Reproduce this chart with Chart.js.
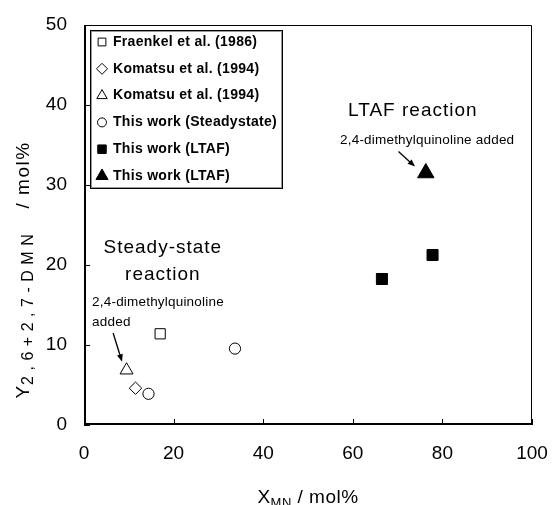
<!DOCTYPE html>
<html>
<head>
<meta charset="utf-8">
<script src="https://cdn.jsdelivr.net/npm/chart.js@4.4.0/dist/chart.umd.min.js"></script>
<style>
html, body { margin: 0; padding: 0; background: #fff; }
</style>
</head>
<body>
<canvas id="myChart" width="553" height="505"></canvas>
<script>
// tick values
const xTicks = [0, 20, 40, 60, 80, 100];
const yTicks = [0, 10, 20, 30, 40, 50];

// legend labels
const seriesNames = [
  'Fraenkel et al. (1986)',
  'Komatsu et al. (1994)',
  'Komatsu et al. (1994)',
  'This work (Steadystate)',
  'This work (LTAF)',
  'This work (LTAF)'
];

// data (X_MN, Y_2,6+2,7-DMN)
const fraenkelX = [17.0];
const fraenkelY = [11.4];
const komatsuDiamondX = [11.5];
const komatsuDiamondY = [4.6];
const komatsuTriangleX = [9.5];
const komatsuTriangleY = [6.85];
const steadyX = [14.4, 33.7];
const steadyY = [3.9, 9.55];
const ltafSquareX = [66.5, 77.8];
const ltafSquareY = [18.25, 21.25];
const ltafTriangleX = [76.3];
const ltafTriangleY = [31.5];

// notes on the plot, placed in data units
const notes = [
  { text: 'LTAF reaction', x: 73.4, y: 39.3, size: 19, align: 'center' },
  { text: '2,4-dimethylquinoline added', x: 76.6, y: 35.6, size: 13.5, align: 'center' },
  { text: 'Steady-state', x: 17.6, y: 22.1, size: 19, align: 'center' },
  { text: 'reaction', x: 17.6, y: 18.75, size: 19, align: 'center' },
  { text: '2,4-dimethylquinoline', x: 1.8, y: 15.4, size: 13.5, align: 'left' },
  { text: 'added', x: 1.8, y: 12.9, size: 13.5, align: 'left' }
];
const arrows = [
  { from: [70.2, 34.2], to: [73.9, 32.3] },
  { from: [6.5, 11.5], to: [8.5, 7.9] }
];

const FONT = "Arial, 'Liberation Sans', sans-serif";
Chart.defaults.font.family = FONT;
Chart.defaults.color = '#000';

const pts = (xs, ys) => xs.map((v, i) => ({ x: v, y: ys[i] }));

const mk = (i, xs, ys, style, r, filled) => ({
  label: seriesNames[i],
  data: pts(xs, ys),
  pointStyle: style,
  pointRadius: r,
  pointHoverRadius: r,
  borderWidth: 1,
  borderColor: '#000',
  backgroundColor: filled ? '#000' : '#fff',
  showLine: false
});

const legendMarks = [
  { style: 'rect', r: 5.5, filled: false },
  { style: 'rectRot', r: 5.5, filled: false },
  { style: 'triangle', r: 6, filled: false },
  { style: 'circle', r: 4.5, filled: false },
  { style: 'rect', r: 6, filled: true },
  { style: 'triangle', r: 7, filled: true }
];

function drawMark(ctx, m, x, y) {
  ctx.save();
  ctx.strokeStyle = '#000';
  ctx.fillStyle = m.filled ? '#000' : '#fff';
  ctx.lineWidth = 1;
  Chart.helpers.drawPoint(ctx, { pointStyle: m.style, radius: m.r, rotation: 0, borderWidth: 1 }, x, y);
  ctx.restore();
}

function arrow(ctx, x1, y1, x2, y2) {
  const ang = Math.atan2(y2 - y1, x2 - x1);
  const len = 8;
  ctx.beginPath();
  ctx.moveTo(x1, y1);
  ctx.lineTo(x2 - Math.cos(ang) * 4, y2 - Math.sin(ang) * 4);
  ctx.lineWidth = 1.3;
  ctx.stroke();
  ctx.beginPath();
  ctx.moveTo(x2, y2);
  ctx.lineTo(x2 - len * Math.cos(ang - 0.38), y2 - len * Math.sin(ang - 0.38));
  ctx.lineTo(x2 - len * Math.cos(ang + 0.38), y2 - len * Math.sin(ang + 0.38));
  ctx.closePath();
  ctx.fill();
}

const decor = {
  id: 'decor',
  afterDraw(chart) {
    const { ctx } = chart;
    const sx = chart.scales.x, sy = chart.scales.y;
    const L = sx.getPixelForValue(0), R = sx.getPixelForValue(100);
    const B = sy.getPixelForValue(0), T = sy.getPixelForValue(50);
    ctx.save();
    ctx.strokeStyle = '#000';
    ctx.fillStyle = '#000';

    // frame
    ctx.lineWidth = 1;
    ctx.beginPath();
    ctx.moveTo(L, T + 0.5);
    ctx.lineTo(R - 0.5, T + 0.5);
    ctx.lineTo(R - 0.5, B);
    ctx.stroke();
    ctx.lineWidth = 2;
    ctx.beginPath();
    ctx.moveTo(L + 1, T);
    ctx.lineTo(L + 1, B - 1);
    ctx.lineTo(R, B - 1);
    ctx.stroke();

    // inner tick marks
    ctx.lineWidth = 1;
    ctx.beginPath();
    yTicks.forEach(v => {
      const py = Math.round(sy.getPixelForValue(v)) + 0.5;
      ctx.moveTo(L, py); ctx.lineTo(L + 6, py);
    });
    xTicks.forEach(v => {
      const px = Math.round(sx.getPixelForValue(v)) + 0.5;
      ctx.moveTo(px, B); ctx.lineTo(px, B - 6);
    });
    ctx.stroke();

    // legend box
    const lx = L + 6, ly = T + 5, lw = 192, lh = 158;
    ctx.fillStyle = '#fff';
    ctx.fillRect(lx, ly, lw, lh);
    ctx.strokeStyle = '#999';
    ctx.strokeRect(lx + 1.5, ly + 1.5, lw - 2, lh - 2);
    ctx.strokeStyle = '#000';
    ctx.strokeRect(lx + 0.5, ly + 0.5, lw, lh);
    ctx.fillStyle = '#000';
    ctx.font = 'bold 14px ' + FONT;
    ctx.letterSpacing = '0.3px';
    ctx.textBaseline = 'middle';
    ctx.textAlign = 'left';
    seriesNames.forEach((name, i) => {
      const cy = ly + 12 + i * 26.8;
      drawMark(ctx, legendMarks[i], lx + 12, cy);
      ctx.fillStyle = '#000';
      ctx.fillText(name, lx + 23, cy);
    });

    // notes and arrows
    notes.forEach(n => {
      ctx.font = n.size + 'px ' + FONT;
      ctx.letterSpacing = n.size > 15 ? '1px' : '0.2px';
      ctx.textAlign = n.align;
      ctx.fillText(n.text, sx.getPixelForValue(n.x), sy.getPixelForValue(n.y));
    });
    arrows.forEach(ar => {
      arrow(ctx,
        sx.getPixelForValue(ar.from[0]), sy.getPixelForValue(ar.from[1]),
        sx.getPixelForValue(ar.to[0]), sy.getPixelForValue(ar.to[1]));
    });

    // axis titles
    ctx.textBaseline = 'alphabetic';
    ctx.textAlign = 'left';
    const xParts = [['X', 19, 0, 0.5], ['MN', 13, 4, 0.5], [' / mol%', 19, 0, 0.5]];
    const yParts = [['Y', 19, 0, 1], ['2,6+2,7-DMN', 16, 4, 5.5], ['   / mol%', 19, 0, 1.5]];
    const widthOf = parts => parts.reduce((s, p) => {
      ctx.font = p[1] + 'px ' + FONT;
      ctx.letterSpacing = p[3] + 'px';
      return s + ctx.measureText(p[0]).width;
    }, 0);
    const drawParts = (parts, x0, base) => {
      let cx = x0;
      parts.forEach(p => {
        ctx.font = p[1] + 'px ' + FONT;
        ctx.letterSpacing = p[3] + 'px';
        ctx.fillText(p[0], cx, base + p[2]);
        cx += ctx.measureText(p[0]).width;
      });
    };
    drawParts(xParts, (L + R) / 2 - widthOf(xParts) / 2, 503);

    ctx.save();
    ctx.translate(29, 270);
    ctx.rotate(-Math.PI / 2);
    drawParts(yParts, -widthOf(yParts) / 2, 0);
    ctx.restore();

    ctx.restore();
  }
};

const ctx = document.getElementById('myChart').getContext('2d');
new Chart(ctx, {
  type: 'scatter',
  data: {
    datasets: [
      mk(0, fraenkelX, fraenkelY, 'rect', 7.2, false),
      mk(1, komatsuDiamondX, komatsuDiamondY, 'rectRot', 6.2, false),
      mk(2, komatsuTriangleX, komatsuTriangleY, 'triangle', 7.5, false),
      mk(3, steadyX, steadyY, 'circle', 5.6, false),
      mk(4, ltafSquareX, ltafSquareY, 'rect', 7.8, true),
      mk(5, ltafTriangleX, ltafTriangleY, 'triangle', 9.5, true)
    ]
  },
  options: {
    responsive: false,
    animation: false,
    devicePixelRatio: 1,
    layout: { padding: { top: 25, right: 21, left: 0, bottom: 0 } },
    plugins: {
      legend: { display: false },
      tooltip: { enabled: false }
    },
    scales: {
      x: {
        type: 'linear',
        min: 0, max: 100,
        afterFit: s => { s.height = 80; s.paddingLeft = 0; s.paddingRight = 0; },
        afterBuildTicks: s => { s.ticks = xTicks.map(v => ({ value: v })); },
        grid: { display: false, drawTicks: false },
        border: { display: false },
        ticks: { padding: 17, font: { size: 19 }, color: '#000', maxRotation: 0 }
      },
      y: {
        type: 'linear',
        min: 0, max: 50,
        afterFit: s => { s.width = 84; s.paddingTop = 0; s.paddingBottom = 0; },
        afterBuildTicks: s => { s.ticks = yTicks.map(v => ({ value: v })); },
        grid: { display: false, drawTicks: false },
        border: { display: false },
        ticks: { padding: 17, font: { size: 19 }, color: '#000' }
      }
    }
  },
  plugins: [decor]
});
</script>
</body>
</html>
